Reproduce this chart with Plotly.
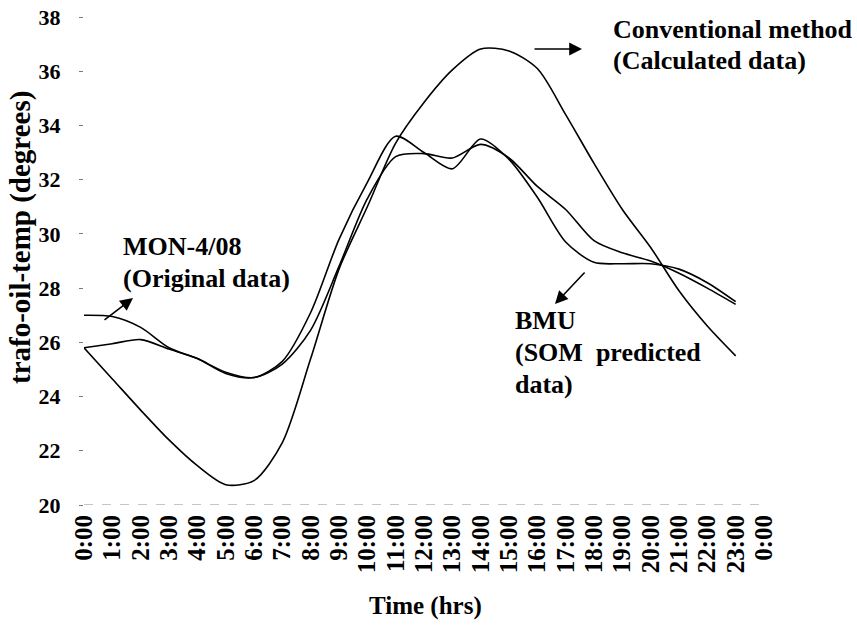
import plotly.graph_objects as go

hours = list(range(24))
tick_labels = ["0:00", "1:00", "2:00", "3:00", "4:00", "5:00", "6:00", "7:00", "8:00", "9:00",
               "10:00", "11:00", "12:00", "13:00", "14:00", "15:00", "16:00", "17:00", "18:00",
               "19:00", "20:00", "21:00", "22:00", "23:00", "0:00"]
y_ticks = [20, 22, 24, 26, 28, 30, 32, 34, 36, 38]

conventional = [25.8, 24.65, 23.5, 22.4, 21.45, 20.75, 20.9, 22.3, 25.4, 28.7, 31.0, 33.35,
                34.85, 36.05, 36.82, 36.75, 36.1, 34.4, 32.6, 30.9, 29.5, 27.9, 26.6, 25.5]
mon_original = [27.0, 26.95, 26.55, 25.8, 25.4, 24.9, 24.7, 25.2, 26.45, 28.8, 31.3, 32.85,
                32.96, 32.8, 33.3, 32.8, 31.75, 30.9, 29.75, 29.3, 29.0, 28.55, 28.0, 27.4]
bmu_som = [25.8, 25.95, 26.1, 25.75, 25.4, 24.85, 24.7, 25.3, 27.1, 29.8, 31.9, 33.6,
           33.0, 32.4, 33.5, 32.75, 31.35, 29.7, 28.95, 28.9, 28.9, 28.7, 28.2, 27.5]

W, H = 857, 627
L, R, T, B = 84, 764, 17, 505
FONT = "Liberation Serif"

def px(xp):
    return (xp - L) / (R - L)

def py(yp):
    return (B - yp) / (B - T)

fig = go.Figure()
for name, ys in [("Conventional", conventional), ("MON-4/08", mon_original), ("BMU", bmu_som)]:
    fig.add_trace(go.Scatter(x=hours, y=ys, mode="lines", name=name,
                             line=dict(color="black", width=1.6, shape="spline", smoothing=0.8)))

# faint dashed x-axis baseline
fig.add_shape(type="line", xref="x", yref="y", x0=0, x1=24, y0=20, y1=20,
              line=dict(color="#8a8a8a", width=1, dash="dash"))

tfont = dict(family=FONT, size=26, color="black")
texts = [
    ("<b>Conventional method</b>", 611, 29),
    ("<b>(Calculated data)</b>", 611, 61),
    ("<b>MON-4/08</b>", 121, 246),
    ("<b>(Original data)</b>", 121, 278),
    ("<b>BMU</b>", 513, 320),
    ("<b>(SOM  predicted</b>", 513, 352),
    ("<b>data)</b>", 513, 384),
]
for txt, xp, yp in texts:
    fig.add_annotation(text=txt, xref="paper", yref="paper", x=px(xp), y=py(yp),
                       xanchor="left", yanchor="middle", showarrow=False, font=tfont)

# arrows (head position in paper coords, tail as pixel offsets)
arrows = [(582, 49, -49, 0), (133, 298, -30, 23), (555, 304, 31, -33)]
for hx, hy, axo, ayo in arrows:
    fig.add_annotation(text="", xref="paper", yref="paper", x=px(hx), y=py(hy),
                       ax=axo, ay=ayo, showarrow=True, arrowhead=2, arrowsize=1.6,
                       arrowwidth=1.6, arrowcolor="black")

# axis titles
fig.add_annotation(text="<b>trafo-oil-temp (degrees)</b>", xref="paper", yref="paper",
                   x=px(20), y=py(238), textangle=-90, showarrow=False,
                   xanchor="center", yanchor="middle",
                   font=dict(family=FONT, size=29, color="black"))
fig.add_annotation(text="<b>Time (hrs)</b>", xref="paper", yref="paper",
                   x=px(425), y=py(606), showarrow=False,
                   xanchor="center", yanchor="middle",
                   font=dict(family=FONT, size=25, color="black"))

fig.update_layout(
    width=W, height=H,
    margin=dict(l=L, r=W - R, t=T, b=H - B, autoexpand=False),
    paper_bgcolor="white", plot_bgcolor="white",
    showlegend=False,
    xaxis=dict(range=[0, 24], tickmode="array", tickvals=list(range(25)),
               ticktext=["<b>%s</b>" % t for t in tick_labels],
               tickangle=-90, showgrid=False, zeroline=False, showline=False, ticks="",
               automargin=False,
               tickfont=dict(family=FONT, size=25, color="black"), ticklabelstandoff=4),
    yaxis=dict(range=[20, 38], tickmode="array", tickvals=y_ticks,
               ticktext=["<b>%d</b>" % v for v in y_ticks],
               showgrid=False, zeroline=False, showline=False, ticks="outside", ticklen=4,
               tickcolor="#777", tickwidth=1, automargin=False,
               tickfont=dict(family=FONT, size=22, color="black"), ticklabelstandoff=14),
)

fig.write_html("out.html")
